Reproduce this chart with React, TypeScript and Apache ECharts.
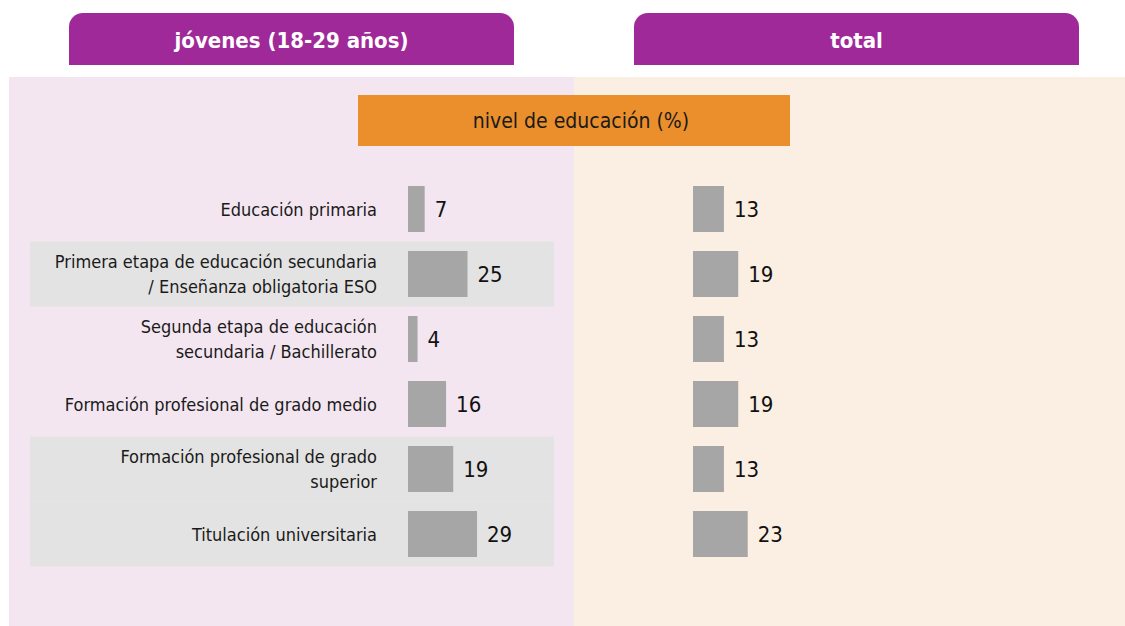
import React, { useEffect, useRef } from "react";
import * as echarts from "echarts";

const categories = [
  "Educación primaria",
  "Primera etapa de educación secundaria\n/ Enseñanza obligatoria ESO",
  "Segunda etapa de educación\nsecundaria / Bachillerato",
  "Formación profesional de grado medio",
  "Formación profesional de grado\nsuperior",
  "Titulación universitaria",
];
const jovenes = [7, 25, 4, 16, 19, 29];
const total = [13, 19, 13, 19, 13, 23];
const stripeRows = [0, 1, 0, 0, 1, 1];
const headers = ["jóvenes (18-29 años)", "total"];
const subtitle = "nivel de educación (%)";

const FONT = "'DejaVu Sans Condensed', 'DejaVu Sans', sans-serif";
const PURPLE = "#a0299a";
const BAR = "#a6a6a6";

export default function App() {
  const ref = useRef<HTMLDivElement>(null);
  useEffect(() => {
    if (!ref.current) return;
    const chart = echarts.init(ref.current, null, { renderer: "svg" });
    const top = 176.5;
    const height = 390;
    const catAxis = (gi: number, show: boolean) => ({
      type: "category",
      gridIndex: gi,
      data: categories,
      inverse: true,
      z: 10,
      axisLine: { show: false },
      axisTick: { show: false },
      axisLabel: show
        ? {
            show: true,
            margin: 31,
            align: "right",
            fontFamily: FONT,
            fontSize: 18,
            lineHeight: 25,
            color: "#1a1a1a",
          }
        : { show: false },
    });
    const valAxis = (gi: number, max: number) => ({
      type: "value",
      gridIndex: gi,
      min: 0,
      max,
      show: false,
      splitLine: { show: false },
    });
    const option = {
      animation: false,
      grid: [
        { left: 30, width: 524, top, height },
        { left: 408, width: 119, top, height },
        { left: 693, width: 119, top, height },
      ],
      xAxis: [valAxis(0, 1), valAxis(1, 50), valAxis(2, 50)],
      yAxis: [catAxis(0, false), catAxis(1, true), catAxis(2, false)],
      graphic: [
        { type: "rect", z: -10, shape: { x: 9, y: 77, width: 565, height: 549 }, style: { fill: "#f3e6f1" } },
        { type: "rect", z: -10, shape: { x: 574, y: 77, width: 551, height: 549 }, style: { fill: "#fbeee3" } },
        { type: "rect", z: -10, shape: { x: 69, y: 13, width: 445, height: 52, r: [14, 14, 0, 0] }, style: { fill: PURPLE } },
        { type: "rect", z: -10, shape: { x: 634, y: 13, width: 445, height: 52, r: [14, 14, 0, 0] }, style: { fill: PURPLE } },
        {
          type: "text", z: 10, x: 291.5, y: 40,
          style: { text: headers[0], fill: "#ffffff", font: `bold 22px ${FONT}`, align: "center", verticalAlign: "middle" },
        },
        {
          type: "text", z: 10, x: 856.5, y: 40,
          style: { text: headers[1], fill: "#ffffff", font: `bold 22px ${FONT}`, align: "center", verticalAlign: "middle" },
        },
        { type: "rect", z: -5, shape: { x: 358, y: 95, width: 432, height: 51 }, style: { fill: "#ea8f2c" } },
        {
          type: "text", z: 10, x: 581, y: 121,
          style: { text: subtitle, fill: "#1a1a1a", font: `21px ${FONT}`, align: "center", verticalAlign: "middle" },
        },
      ],
      series: [
        {
          type: "bar",
          xAxisIndex: 0,
          yAxisIndex: 0,
          data: stripeRows,
          barWidth: "100%",
          silent: true,
          z: 1,
          itemStyle: { color: "#e3e3e3" },
        },
        {
          type: "bar",
          xAxisIndex: 1,
          yAxisIndex: 1,
          data: jovenes,
          barWidth: 46,
          z: 3,
          itemStyle: { color: BAR },
          label: { show: true, position: "right", distance: 10, fontFamily: FONT, fontSize: 22, color: "#111" },
        },
        {
          type: "bar",
          xAxisIndex: 2,
          yAxisIndex: 2,
          data: total,
          barWidth: 46,
          z: 3,
          itemStyle: { color: BAR },
          label: { show: true, position: "right", distance: 10, fontFamily: FONT, fontSize: 22, color: "#111" },
        },
      ],
    };
    chart.setOption(option as any);
    return () => chart.dispose();
  }, []);
  return (
    <div
      ref={ref}
      style={{ position: "absolute", left: 0, top: 0, width: 1125, height: 626, background: "#ffffff" }}
    />
  );
}
